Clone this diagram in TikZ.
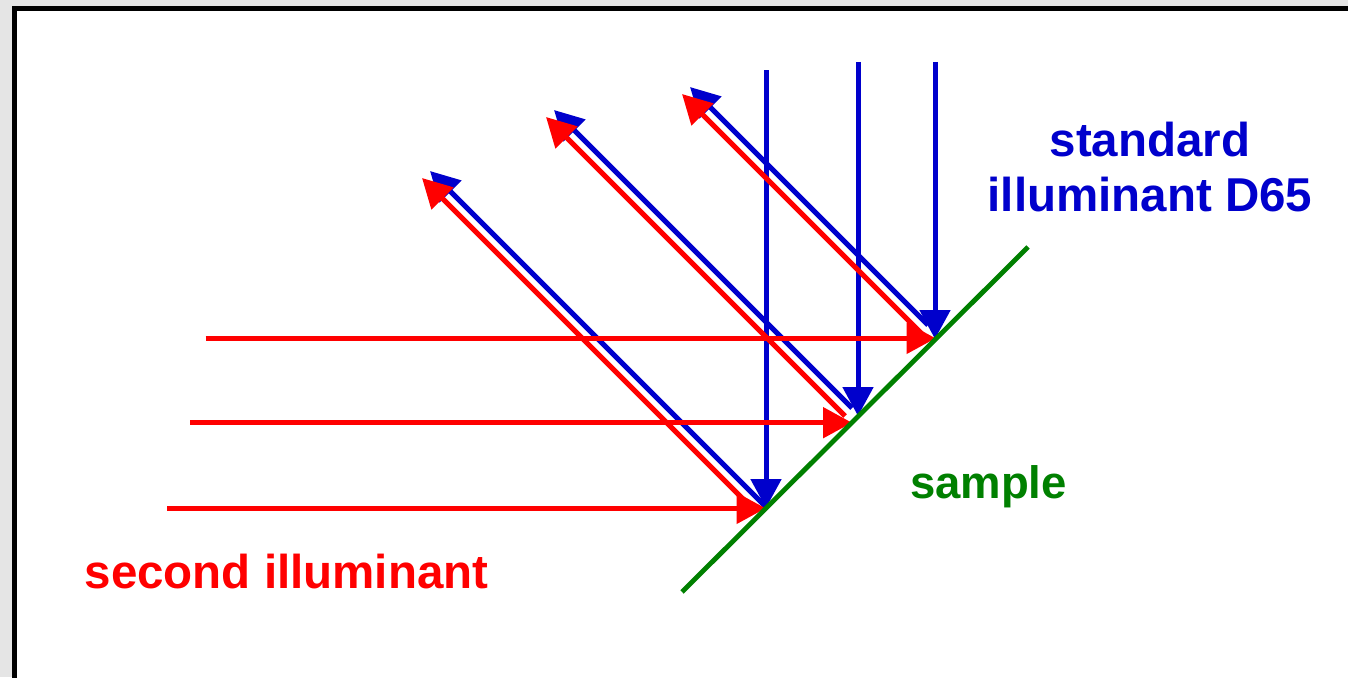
\documentclass[tikz,border=0pt]{standalone}
\usepackage{fontspec}
\setmainfont{Liberation Sans}
\usetikzlibrary{arrows.meta}
\definecolor{dblue}{RGB}{0,0,204}
\definecolor{dred}{RGB}{255,0,0}
\definecolor{dgreen}{RGB}{0,128,0}
\definecolor{bggray}{RGB}{229,229,229}
\begin{document}
\begin{tikzpicture}[x=1pt,y=-1pt,
  bluray/.style={draw=dblue, line width=5pt, -{Triangle[length=29pt,width=30pt]}},
  redray/.style={draw=dred, line width=5.2pt, -{Triangle[length=29pt,width=30pt]}},
  label/.style={inner sep=0pt, anchor=base, font=\bfseries}]
\useasboundingbox[fill=bggray] (0,0) rectangle (1348,677);
\clip (0,0) rectangle (1348,677);
\draw[line width=5.3pt, fill=white] (14.5,8.3) rectangle (1380,720);
% reflection points
\coordinate (P1) at (766,508);
\coordinate (P2) at (858,416);
\coordinate (P3) at (935,339);
% blue sources
\coordinate (B1) at (766,70);
\coordinate (B2) at (858,62);
\coordinate (B3) at (935,62);
% blue reflected
\coordinate (Q1) at (766,507);
\coordinate (Q2) at (852,408);
\coordinate (Q3) at (928,325);
\coordinate (T1) at (430,171);
\coordinate (T2) at (554,110);
\coordinate (T3) at (690,87);
% red sources and hit points
\coordinate (R1) at (167,508.3);
\coordinate (R2) at (190,422.7);
\coordinate (R3) at (205.7,338.3);
\coordinate (H1) at (765.7,508.3);
\coordinate (H2) at (852,422.7);
\coordinate (H3) at (935.7,338.3);
% red reflected
\coordinate (S1) at (752,508);
\coordinate (S2) at (845,416);
\coordinate (S3) at (926,338);
\coordinate (U1) at (422,178);
\coordinate (U2) at (546,117);
\coordinate (U3) at (682,94);
% green sample
\coordinate (G1) at (682,592);
\coordinate (G2) at (1028,247);

\draw[bluray] (B1) -- (P1);
\draw[bluray] (B2) -- (P2);
\draw[bluray] (B3) -- (P3);
\draw[bluray] (Q1) -- (T1);
\draw[bluray] (Q2) -- (T2);
\draw[bluray] (Q3) -- (T3);
\draw[redray] (S1) -- (U1);
\draw[redray] (S2) -- (U2);
\draw[redray] (S3) -- (U3);
\draw[redray] (R1) -- (H1);
\draw[redray] (R2) -- (H2);
\draw[redray] (R3) -- (H3);
\draw[dgreen, line width=4.8pt] (G1) -- (G2);

\node[label, text=dblue, font=\bfseries\fontsize{47.5}{55}\selectfont] (std1) at (1150,156.7) {standard};
\node[label, text=dblue, font=\bfseries\fontsize{47.5}{55}\selectfont] (std2) at (1150,211.7) {illuminant D65};
\node[label, text=dgreen, font=\bfseries\fontsize{45.5}{50}\selectfont] (smp) at (988.5,498) {sample};
\node[label, text=dred, font=\bfseries\fontsize{47.5}{55}\selectfont] (sec) at (286.5,588.5) {second illuminant};
\end{tikzpicture}
\end{document}
